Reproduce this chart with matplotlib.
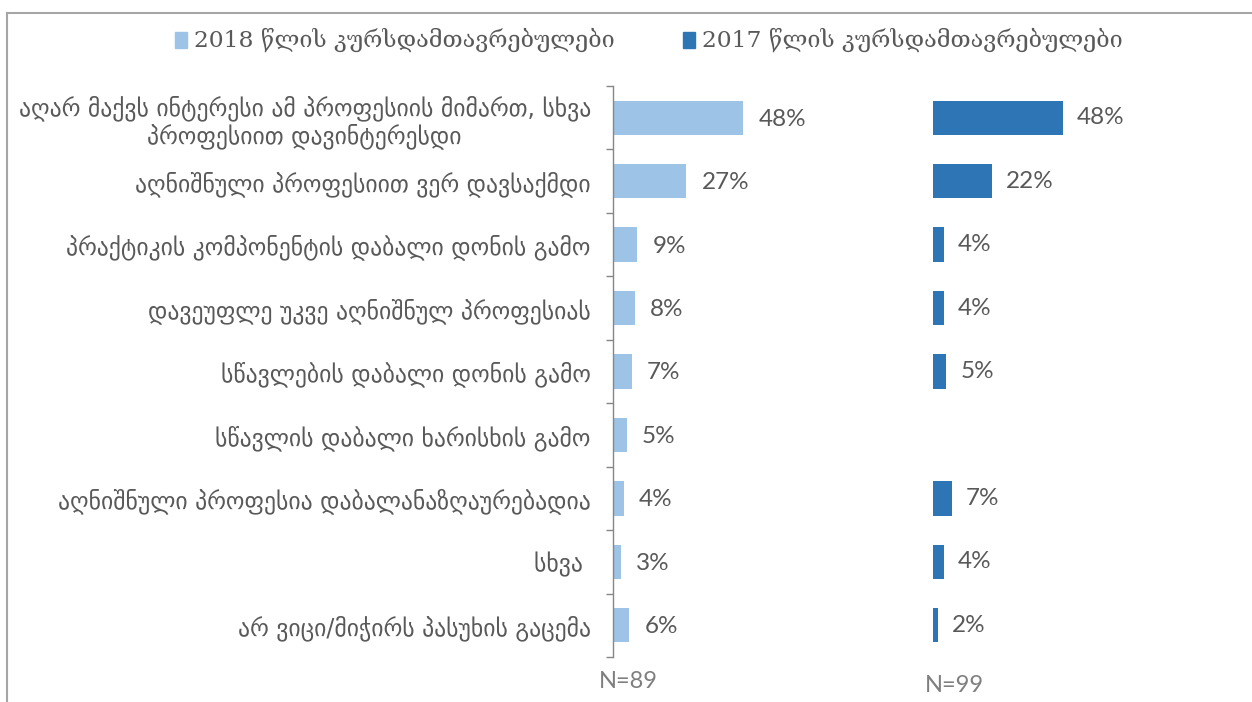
import matplotlib
matplotlib.use('Agg')
import matplotlib.pyplot as plt
import matplotlib.transforms as mtransforms
from matplotlib.lines import Line2D
from matplotlib.patches import Rectangle
import numpy as np

categories = [
    'აღარ მაქვს ინტერესი ამ პროფესიის მიმართ, სხვა\nპროფესიით დავინტერესდი',
    'აღნიშნული პროფესიით ვერ დავსაქმდი',
    'პრაქტიკის კომპონენტის დაბალი დონის გამო',
    'დავეუფლე უკვე აღნიშნულ პროფესიას',
    'სწავლების დაბალი დონის გამო',
    'სწავლის დაბალი ხარისხის გამო',
    'აღნიშნული პროფესია დაბალანაზღაურებადია',
    'სხვა ',
    'არ ვიცი/მიჭირს პასუხის გაცემა',
]
values_2018 = [48, 27, 9, 8, 7, 5, 4, 3, 6]
values_2017 = [48, 22, 4, 4, 5, np.nan, 7, 4, 2]
series_names = ['2018 წლის კურსდამთავრებულები', '2017 წლის კურსდამთავრებულები']
sample_sizes = ['N=89', 'N=99']

color_2018 = '#9dc3e6'
color_2017 = '#2e75b6'
text_gray = '#595959'
geo_font = ['DejaVu Sans']
num_font = ['Lato', 'DejaVu Sans']

offset_2017 = 118  # second block of bars shares the axis, shifted right

fig = plt.figure(figsize=(12.52, 7.02), dpi=100)
ax = fig.add_axes([613 / 1252, 45 / 702, 639 / 1252, 571 / 702])

y = np.arange(len(categories))
ax.barh(y, values_2018, height=0.54, color=color_2018)
ax.barh(y, values_2017, left=offset_2017, height=0.54, color=color_2017)

for i, v in enumerate(values_2018):
    ax.annotate(f'{v}%', xy=(v, i), xytext=(11, -1), textcoords='offset points',
                va='center', ha='left', fontsize=17.5, color=text_gray, family=num_font)
for i, v in enumerate(values_2017):
    if np.isnan(v):
        continue
    ax.annotate(f'{v:.0f}%', xy=(offset_2017 + v, i), xytext=(10, 0), textcoords='offset points',
                va='center', ha='left', fontsize=17.5, color=text_gray, family=num_font)

ax.set_xlim(0, 639 / 2.71)
ax.set_ylim(len(categories) - 0.5, -0.5)
ax.set_yticks(y)
ax.set_yticklabels(categories, fontsize=17, color=text_gray, family=geo_font, ha='right')
ax.tick_params(axis='y', which='major', length=0, pad=16)
ax.set_yticks(np.arange(len(categories) + 1) - 0.5, minor=True)
ax.tick_params(axis='y', which='minor', length=5, color='#868686', width=1)
ax.set_xticks([])
for s in ['top', 'right', 'bottom']:
    ax.spines[s].set_visible(False)
ax.spines['left'].set_color('#868686')
ax.spines['left'].set_linewidth(1)
for lab in ax.get_yticklabels():
    lab.set_multialignment('center')
    lab.set_linespacing(1.15)

# sample sizes under each block
trans = mtransforms.blended_transform_factory(ax.transData, fig.transFigure)
ax.text(5.5, 1 - 681 / 702, sample_sizes[0], transform=trans, ha='center', va='center',
        fontsize=17, color='#7f7f7f', family=num_font)
ax.text(offset_2017 + 8, 1 - 686 / 702, sample_sizes[1], transform=trans, ha='center', va='center',
        fontsize=17, color='#7f7f7f', family=num_font)

# legend drawn by hand to match the layout
for xs, col, name in [(175, color_2018, series_names[0]), (683, color_2017, series_names[1])]:
    fig.patches.append(Rectangle((xs / 1252, 1 - 48 / 702), 12 / 1252, 16 / 702,
                                 transform=fig.transFigure, color=col))
    fig.text((xs + 19) / 1252, 1 - 40 / 702, name, ha='left', va='center',
             fontsize=16.8, color=text_gray, family=['DejaVu Serif', 'DejaVu Sans'])

# chart frame
fig.lines.append(Line2D([7 / 1252, 1], [1 - 13 / 702, 1 - 13 / 702], transform=fig.transFigure,
                        color='#a6a6a6', lw=1.5))
fig.lines.append(Line2D([7 / 1252, 7 / 1252], [0, 1 - 13 / 702], transform=fig.transFigure,
                        color='#a6a6a6', lw=1.5))

fig.savefig('out.png', dpi=100)
